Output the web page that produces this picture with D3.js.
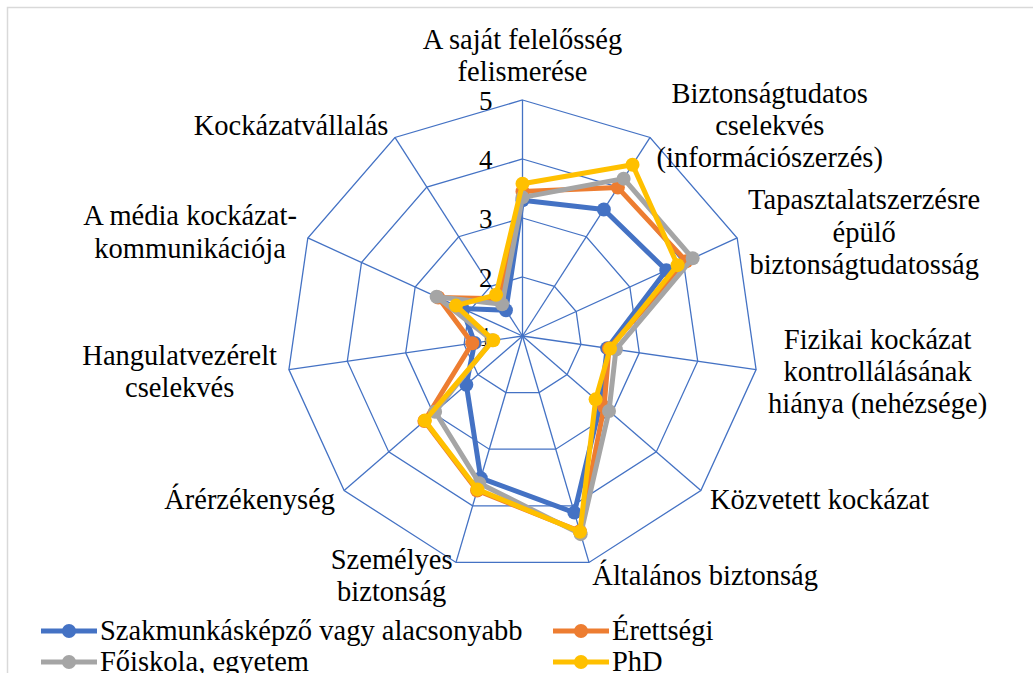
<!DOCTYPE html>
<html>
<head>
<meta charset="utf-8">
<script src="https://cdn.jsdelivr.net/npm/d3@7"></script>
<style>
  body { margin: 0; background: #fff; }
</style>
</head>
<body>
<div id="radar"></div>
<script>
// tengelyek (kategoriak)
var categories = [
    ["A saját felelősség", "felismerése"],
    ["Biztonságtudatos", "cselekvés", "(információszerzés)"],
    ["Tapasztalatszerzésre", "épülő", "biztonságtudatosság"],
    ["Fizikai kockázat", "kontrollálásának", "hiánya (nehézsége)"],
    ["Közvetett kockázat"],
    ["Általános biztonság"],
    ["Személyes", "biztonság"],
    ["Árérzékenység"],
    ["Hangulatvezérelt", "cselekvés"],
    ["A média kockázat-", "kommunikációja"],
    ["Kockázatvállalás"]
];

var seriesNames = ["Szakmunkásképző vagy alacsonyabb", "Érettségi", "Főiskola, egyetem", "PhD"];
var seriesColors = ["#4472C4", "#ED7D31", "#A5A5A5", "#FFC000"];

var szakmunkas = [3.30, 3.55, 3.68, 2.45, 2.75, 4.12, 3.51, 2.26, 1.82, 2.12, 1.52];
var erettsegi  = [3.45, 3.99, 4.05, 2.48, 2.83, 4.45, 3.73, 3.20, 1.86, 2.57, 1.75];
var foiskola   = [3.35, 4.17, 4.17, 2.60, 2.94, 4.50, 3.60, 2.96, 1.52, 2.60, 1.64];
var phd        = [3.58, 4.45, 3.89, 2.50, 2.64, 4.46, 3.71, 3.19, 1.50, 2.24, 1.83];

var tickValues = [1, 2, 3, 4, 5];

var allSeries = [szakmunkas, erettsegi, foiskola, phd];

var width = 1033, height = 673;
var cx = 522.5, cy = 336;
var serif = "Liberation Serif";
var fontSize = 28.5, lineH = 32.4;

var svg = d3.select("#radar")
    .append("svg")
    .attr("width", width)
    .attr("height", height);

// kulso keret (jobbra es lent levagva)
svg.append("rect")
    .attr("x", 7.5)
    .attr("y", 7.5)
    .attr("width", 1100)
    .attr("height", 800)
    .attr("fill", "none")
    .attr("stroke", "#d9d9d9")
    .attr("stroke-width", 1.5);

var r = d3.scaleLinear()
    .domain([1, 5])
    .range([0, 236]);

var n = categories.length;
var angle = d3.scaleLinear()
    .domain([0, n])
    .range([0, 2 * Math.PI]);

function pt(i, v) {
    var a = angle(i);
    return [cx + r(v) * Math.sin(a), cy - r(v) * Math.cos(a)];
}

var g = svg.append("g");

// racs: gyuruk
tickValues.slice(1).forEach(function (t) {
    var pts = d3.range(n).map(function (i) { return pt(i, t); });
    g.append("polygon")
        .attr("points", pts.map(function (p) { return p.join(","); }).join(" "))
        .attr("fill", "none")
        .attr("stroke", "#4472C4")
        .attr("stroke-width", 1.3);
});

// kullok
d3.range(n).forEach(function (i) {
    var p = pt(i, 5);
    g.append("line")
        .attr("x1", cx).attr("y1", cy)
        .attr("x2", p[0]).attr("y2", p[1])
        .attr("stroke", "#4472C4")
        .attr("stroke-width", 1.3);
});

// skala feliratok
tickValues.forEach(function (t) {
    g.append("text")
        .attr("x", cx - 30)
        .attr("y", cy - r(t) + 10)
        .attr("text-anchor", "end")
        .style("font-family", serif)
        .attr("font-size", 27)
        .text(t);
});

// tengely feliratok
categories.forEach(function (lines, i) {
    var a = angle(i);
    var s = Math.sin(a), c = Math.cos(a);
    var v = pt(i, 5);
    var lbl = g.append("text")
        .style("font-family", serif)
        .attr("font-size", fontSize)
        .attr("text-anchor", "middle");
    var tspans = lines.map(function (l) { return lbl.append("tspan").text(l); });
    var w = d3.max(tspans, function (t) { return t.node().getComputedTextLength(); });
    var bx;
    if (Math.abs(s) < 0.05) bx = v[0];
    else if (s > 0) bx = v[0] + 12 * s + w / 2;
    else bx = v[0] + 12 * s - w / 2;
    var h = lines.length * lineH;
    var my;
    if (Math.abs(s) < 0.05) my = v[1] - 12 - h / 2;
    else my = v[1] - c * 14;
    var firstBase = my - h / 2 + lineH / 2 + fontSize * 0.33;
    tspans.forEach(function (t, k) {
        t.attr("x", bx).attr("y", firstBase + k * lineH);
    });
});

// adatsorok
var line = d3.line().curve(d3.curveLinearClosed);
allSeries.forEach(function (data, si) {
    var pts = data.map(function (v, i) { return pt(i, v); });
    g.append("path")
        .attr("d", line(pts))
        .attr("fill", "none")
        .attr("stroke", seriesColors[si])
        .attr("stroke-width", 5)
        .attr("stroke-linejoin", "round");
    g.selectAll(null)
        .data(pts)
        .enter()
        .append("circle")
        .attr("cx", function (d) { return d[0]; })
        .attr("cy", function (d) { return d[1]; })
        .attr("r", 7)
        .attr("fill", seriesColors[si]);
});

// jelmagyarazat
var legendPos = [[41, 631], [553, 631], [41, 662], [553, 662]];
seriesNames.forEach(function (name, si) {
    var lx = legendPos[si][0], ly = legendPos[si][1];
    var lg = svg.append("g").attr("transform", "translate(" + lx + "," + ly + ")");
    lg.append("line")
        .attr("x1", 0).attr("x2", 56)
        .attr("y1", 0).attr("y2", 0)
        .attr("stroke", seriesColors[si])
        .attr("stroke-width", 5);
    lg.append("circle")
        .attr("cx", 28).attr("cy", 0)
        .attr("r", 7)
        .attr("fill", seriesColors[si]);
    lg.append("text")
        .attr("x", 59)
        .attr("y", 9)
        .style("font-family", serif)
        .attr("font-size", fontSize)
        .text(name);
});
</script>
</body>
</html>
